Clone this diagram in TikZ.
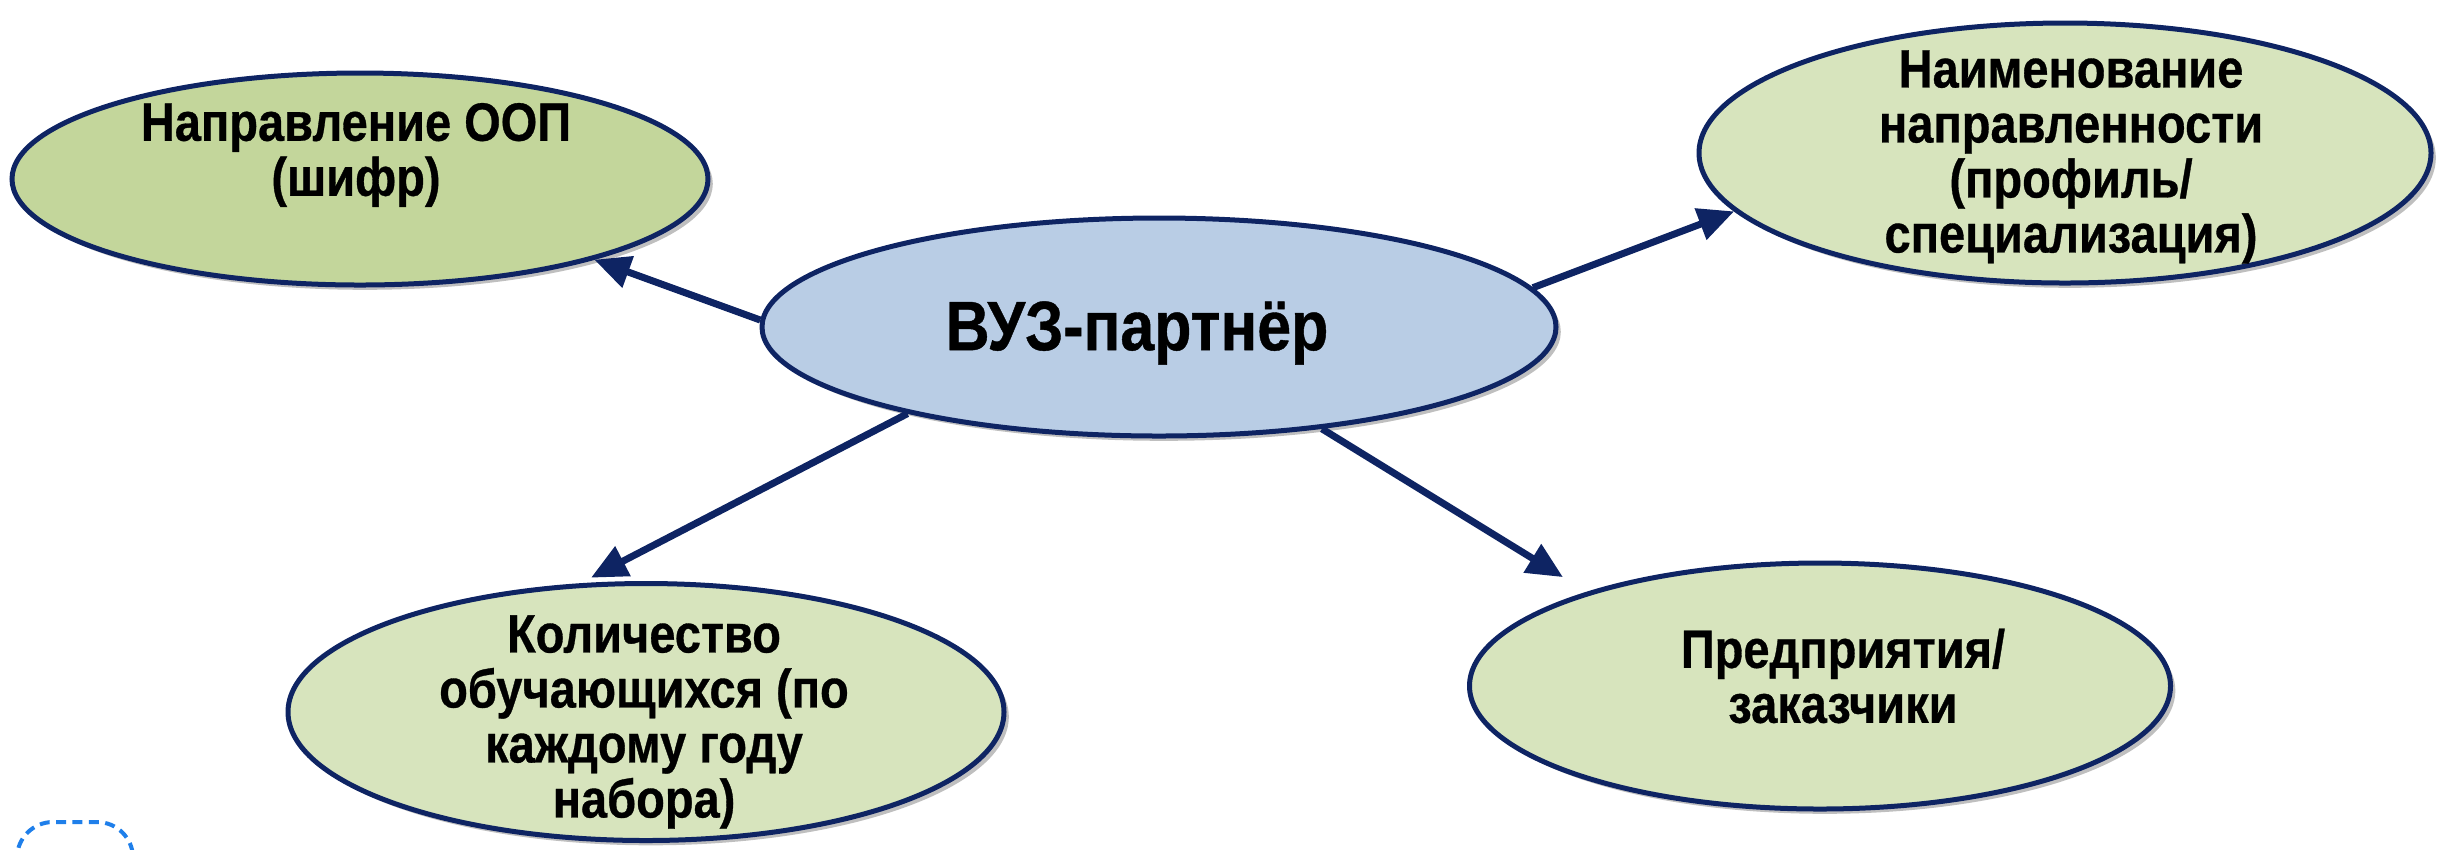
\documentclass[tikz,border=0pt]{standalone}
\usepackage{fontspec}
\setmainfont{Liberation Sans}[FakeStretch=0.87, BoldFeatures={FakeBold=0.6}]
\usetikzlibrary{shapes.geometric,arrows.meta,shadows}
\definecolor{navy}{HTML}{0E2463}
\definecolor{olive}{HTML}{C3D69B}
\definecolor{lightolive}{HTML}{D7E4BD}
\definecolor{lightblue}{HTML}{B9CDE5}
\definecolor{selblue}{HTML}{1F7FEA}
\begin{document}
\begin{tikzpicture}[x=0.25pt,y=-0.25pt,
  ell/.style={ellipse, draw=navy, line width=1.25pt, inner sep=0pt,
    drop shadow={shadow xshift=1.2pt, shadow yshift=-1.2pt, opacity=0.25, fill=black}},
  txt/.style={align=center, inner sep=0pt, font=\bfseries\fontsize{13.5pt}{13.75pt}\selectfont},
  bigtxt/.style={align=center, inner sep=0pt, font=\bfseries\fontsize{17.5pt}{20pt}\selectfont},
  arr/.style={draw=navy, line width=1.75pt, -{Triangle[length=9pt,width=8pt]}},
  dotbox/.style={draw=selblue, line width=1pt, dash pattern=on 2.5pt off 1.6pt, rounded corners=9pt}]
\useasboundingbox (0,0) rectangle (2440,849);

\node[ell, fill=olive, minimum width=174pt, minimum height=53pt] (tl) at (360,179) {};
\node[ell, fill=lightblue, minimum width=198.5pt, minimum height=54.5pt] (c) at (1159,327) {};
\node[ell, fill=lightolive, minimum width=183pt, minimum height=65pt] (tr) at (2065,153) {};
\node[ell, fill=lightolive, minimum width=179pt, minimum height=64.25pt] (bl) at (646,712) {};
\node[ell, fill=lightolive, minimum width=175.25pt, minimum height=61.5pt] (br) at (1820,686) {};

\node[txt] (tl-t) at (356,155) {Направление ООП\\(шифр)};
\node[bigtxt] (c-t) at (1137,333) {ВУЗ-партнёр};
\node[txt] (tr-t) at (2071,157) {Наименование\\направленности\\(профиль/\\специализация)};
\node[txt] (bl-t) at (644,722) {Количество\\обучающихся (по\\каждому году\\набора)};
\node[txt] (br-t) at (1843,676) {Предприятия/\\заказчики};

\draw[arr] (c.179) -- (tl.-19);
\draw[arr] (c.6) -- (tr.190);
\draw[arr, shorten >=3pt] (c.199) -- (bl.117);
\draw[arr, shorten >=7pt] (c.-32) -- (br.158);

\draw[dotbox] (17,900) rectangle (133,822);
\end{tikzpicture}
\end{document}
